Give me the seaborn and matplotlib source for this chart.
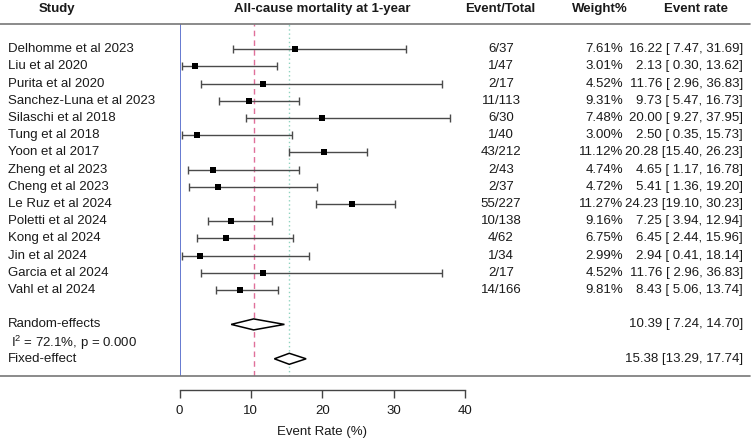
import numpy as np
import pandas as pd
import matplotlib
matplotlib.use("Agg")
import matplotlib.pyplot as plt
import seaborn as sns
from matplotlib.lines import Line2D
from matplotlib.patches import Polygon
import matplotlib.transforms as mtransforms

# study data
studies = ["Delhomme et al 2023", "Liu et al 2020", "Purita et al 2020",
           "Sanchez-Luna et al 2023", "Silaschi et al 2018", "Tung et al 2018",
           "Yoon et al 2017", "Zheng et al 2023", "Cheng et al 2023",
           "Le Ruz et al 2024", "Poletti et al 2024", "Kong et al 2024",
           "Jin et al 2024", "Garcia et al 2024", "Vahl et al 2024"]
events = [6, 1, 2, 11, 6, 1, 43, 2, 2, 55, 10, 4, 1, 2, 14]
totals = [37, 47, 17, 113, 30, 40, 212, 43, 37, 227, 138, 62, 34, 17, 166]
weights = [7.61, 3.01, 4.52, 9.31, 7.48, 3.00, 11.12, 4.74, 4.72, 11.27, 9.16, 6.75, 2.99, 4.52, 9.81]
rates = [16.22, 2.13, 11.76, 9.73, 20.00, 2.50, 20.28, 4.65, 5.41, 24.23, 7.25, 6.45, 2.94, 11.76, 8.43]
lower = [7.47, 0.30, 2.96, 5.47, 9.27, 0.35, 15.40, 1.17, 1.36, 19.10, 3.94, 2.44, 0.41, 2.96, 5.06]
upper = [31.69, 13.62, 36.83, 16.73, 37.95, 15.73, 26.23, 16.78, 19.20, 30.23, 12.94, 15.96, 18.14, 36.83, 13.74]

# pooled estimates
pooled_names = ["Random-effects", "Fixed-effect"]
pooled_rate = [10.39, 15.38]
pooled_lower = [7.24, 13.29]
pooled_upper = [14.70, 17.74]
het_text = "$\\mathregular{I^2}$ = 72.1%, p = 0.000"

df = pd.DataFrame({"study": studies, "rate": rates, "lo": lower, "hi": upper,
                   "row": np.arange(len(studies))})
pooled_rows = [16.0, 18.0]
het_row = 17.07


def fmt_ci(r, lo, hi):
    lo_s = f"{lo:.2f}" if lo >= 10 else f" {lo:.2f}"
    return f"{r:.2f} [{lo_s}, {hi:.2f}]"


sns.set_style("white")
plt.rcParams["font.family"] = ["Liberation Sans", "DejaVu Sans"]
txt_col = "#1a1a1a"

W, H = 754, 440
fig = plt.figure(figsize=(W / 100, H / 100), dpi=100)
# plot panel: x=0 at 179.5 px, x=40 at 465 px; from header line (24) to bottom line (376)
ax = fig.add_axes([179.5 / W, 1 - 376 / H, (465 - 179.5) / W, (376 - 24) / H])
ax.set_xlim(0, 40)
ax.set_ylim(19.0, -1.47)

# whiskers with caps
ax.errorbar(df["rate"], df["row"],
            xerr=[df["rate"] - df["lo"], df["hi"] - df["rate"]],
            fmt="none", ecolor="#4a4a4a", elinewidth=1.0, capsize=3, capthick=1.0, zorder=2)
sns.scatterplot(data=df, x="rate", y="row", marker="s", color="black", s=18,
                edgecolor="black", linewidth=0, ax=ax, zorder=3, legend=False)

# reference lines
ax.axvline(0, color="#4a62c8", lw=1.2, zorder=1)
ax.axvline(pooled_rate[0], color="#e0709a", lw=1.0, ls=(0, (4, 3)), zorder=1)
ax.axvline(pooled_rate[1], color="#8fd3bf", lw=1.0, ls=(0, (1, 2)), zorder=1)

# diamonds
for r, lo, hi, row in zip(pooled_rate, pooled_lower, pooled_upper, pooled_rows):
    d = Polygon([(lo, row), (r, row - 0.32), (hi, row), (r, row + 0.32)],
                closed=True, facecolor="white", edgecolor="black", lw=1.1, zorder=4)
    ax.add_patch(d)

# axis styling
for s in ["top", "right", "left"]:
    ax.spines[s].set_visible(False)
ax.spines["bottom"].set_position(("outward", 10.1))
ax.spines["bottom"].set_bounds(0, 40)
ax.spines["bottom"].set_color("#444444")
ax.spines["bottom"].set_linewidth(1.0)
ax.set_xticks([0, 10, 20, 30, 40])
fs = 9.5
ax.tick_params(axis="x", direction="out", length=6, width=1.0, color="#444444",
               labelsize=fs, labelcolor=txt_col, pad=5, bottom=True)
ax.set_yticks([])
ax.set_ylabel("")
ax.set_xlabel("Event Rate (%)", fontsize=fs, color=txt_col, labelpad=6)

# text columns, x in figure pixels, y in data rows
tr = mtransforms.blended_transform_factory(
    mtransforms.Affine2D().scale(1.0 / W, 1.0) + fig.transFigure, ax.transData)

for i, row in df.iterrows():
    ax.text(8, row["row"], studies[i], transform=tr, fontsize=fs, color=txt_col,
            ha="left", va="center", clip_on=False)
    ax.text(501, row["row"], f"{events[i]}/{totals[i]}", transform=tr, fontsize=fs,
            color=txt_col, ha="center", va="center", clip_on=False)
    ax.text(623, row["row"], f"{weights[i]:.2f}%", transform=tr, fontsize=fs,
            color=txt_col, ha="right", va="center", clip_on=False)
    ax.text(743, row["row"], fmt_ci(rates[i], lower[i], upper[i]),
            transform=tr, fontsize=fs, color=txt_col, ha="right", va="center", clip_on=False)

for name, r, lo, hi, row in zip(pooled_names, pooled_rate, pooled_lower, pooled_upper, pooled_rows):
    ax.text(8, row, name, transform=tr, fontsize=fs, color=txt_col, ha="left", va="center")
    ax.text(743, row, fmt_ci(r, lo, hi), transform=tr, fontsize=fs,
            color=txt_col, ha="right", va="center")
ax.text(11, het_row, het_text, transform=tr, fontsize=fs, color=txt_col, ha="left", va="center")

# headers
hdr_row = -2.33
for x, lab in [(57, "Study"), (322, "All-cause mortality at 1-year"), (500, "Event/Total"),
               (600, "Weight%"), (696, "Event rate")]:
    ax.text(x, hdr_row, lab, transform=tr, fontsize=fs, fontweight="bold", color=txt_col,
            ha="center", va="center", clip_on=False)

# horizontal rules across the whole table
fig.add_artist(Line2D([0, 750 / W], [1 - 24 / H, 1 - 24 / H], transform=fig.transFigure,
                      color="#777777", lw=1.2))
fig.add_artist(Line2D([0, 750 / W], [1 - 376 / H, 1 - 376 / H], transform=fig.transFigure,
                      color="#777777", lw=1.2))

fig.savefig("out.png", dpi=100, facecolor="white")
